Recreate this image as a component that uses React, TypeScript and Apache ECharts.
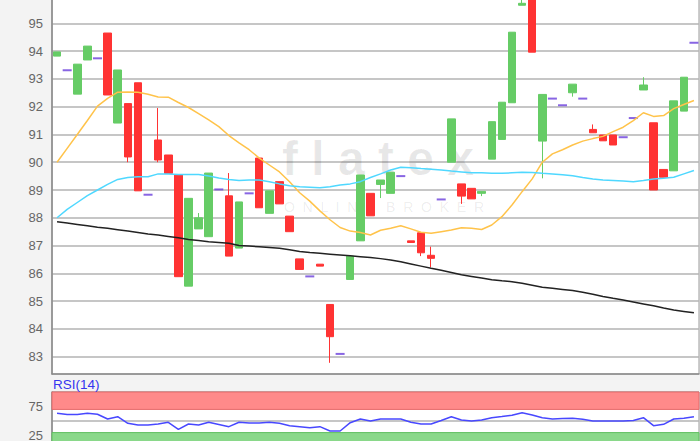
import React, { useEffect, useRef } from 'react';
import * as echarts from 'echarts';

const categories = [
  'T01','T02','T03','T04','T05','T06','T07','T08','T09','T10',
  'T11','T12','T13','T14','T15','T16','T17','T18','T19','T20',
  'T21','T22','T23','T24','T25','T26','T27','T28','T29','T30',
  'T31','T32','T33','T34','T35','T36','T37','T38','T39','T40',
  'T41','T42','T43','T44','T45','T46','T47','T48','T49','T50',
  'T51','T52','T53','T54','T55','T56','T57','T58','T59','T60',
  'T61','T62','T63','T64'
];

// candle bodies (null = doji day, drawn as a dash)
const opens = [
  93.82, null, 92.45, 93.68, null, 94.65, 91.41, 92.11, 92.86, null,
  90.8, 90.26, 89.54, 85.54, 87.6, 87.32, null, 88.79, 86.91, null,
  90.15, 88.16, 89.3, 88.06, 86.52, null, 86.33, 84.88, null, 85.78,
  87.17, 88.88, 89.2, 88.88, null, 87.17, 87.46, 86.65, null, 90.0,
  89.22, 89.06, 88.88, 90.11, 90.82, 92.14, 95.65, 96.3, 90.76, null,
  null, 92.5, null, 91.18, 90.98, 90.98, null, null, 92.6, 91.42,
  89.74, 89.69, 91.84, null
];
const closes = [
  93.97, null, 93.53, 94.18, null, 92.42, 93.32, 90.19, 88.97, null,
  90.08, 89.6, 85.88, 88.7, 88.0, 89.61, null, 86.62, 88.57, null,
  88.36, 88.97, 88.5, 87.5, 86.14, null, 86.26, 83.72, null, 86.62,
  89.54, 88.07, 89.36, 89.64, null, 87.11, 86.74, 86.54, null, 91.56,
  88.78, 88.68, 88.95, 91.46, 92.16, 94.68, 95.72, 93.96, 92.44, null,
  null, 92.81, null, 91.06, 90.77, 90.62, null, null, 92.78, 89.0,
  89.46, 92.21, 93.06, null
];
const lows = [
  93.82, null, 92.45, 93.68, null, 92.42, 91.41, 90.0, 88.97, null,
  90.0, 89.6, 85.88, 85.54, 87.6, 87.32, null, 86.62, 86.91, null,
  88.36, 88.16, 88.5, 87.5, 86.14, null, 86.26, 82.78, null, 85.78,
  87.17, 88.07, 88.71, 88.88, null, 87.11, 86.62, 86.22, null, 90.0,
  88.5, 88.68, 88.78, 90.11, 90.82, 92.14, 95.65, 93.96, 89.42, null,
  null, 92.36, null, 91.06, 90.77, 90.62, null, null, 92.6, 89.0,
  89.46, 89.69, 91.84, null
];
const highs = [
  93.97, null, 93.53, 94.18, null, 94.65, 93.32, 92.11, 92.86, null,
  91.95, 90.26, 89.54, 88.7, 88.17, 89.61, null, 89.61, 88.57, null,
  90.15, 88.97, 89.3, 88.06, 86.52, null, 86.33, 84.88, null, 86.62,
  89.54, 88.88, 89.36, 89.64, null, 87.17, 87.46, 86.96, null, 91.56,
  89.22, 89.06, 88.95, 91.46, 92.16, 94.68, 96.0, 96.3, 92.44, null,
  null, 92.81, null, 91.36, 90.98, 90.98, null, null, 93.06, 91.42,
  89.74, 92.21, 93.06, null
];
const dojis = [
  null, 93.31, null, null, 93.74, null, null, null, null, 88.83,
  null, null, null, null, null, null, 89.02, null, null, 88.88,
  null, null, null, null, null, 85.89, null, null, 83.1, null,
  null, null, null, null, 89.5, null, null, null, 88.66, null,
  null, null, null, null, null, null, null, null, null, 92.29,
  92.05, null, 92.29, null, null, null, 90.9, 91.59, null, null,
  null, null, null, 94.3
];

const maOrange = [
  90.0, 90.5, 91.0, 91.5, 92.02, 92.3, 92.52, 92.53, 92.52, 92.45,
  92.35, 92.34, 92.15, 91.97, 91.75, 91.52, 91.28, 90.96, 90.7, 90.45,
  90.15, 89.9, 89.65, 89.3, 88.9, 88.6, 88.25, 87.93, 87.65, 87.52,
  87.47, 87.38, 87.55, 87.62, 87.71, 87.6, 87.48, 87.44, 87.5, 87.56,
  87.64, 87.62, 87.58, 87.74, 88.04, 88.46, 88.94, 89.4, 90.0, 90.3,
  90.45, 90.62, 90.76, 90.85, 90.93, 91.1, 91.26, 91.5, 91.78, 91.65,
  91.68, 91.93, 92.08, 92.22
];
const maCyan = [
  88.0, 88.3, 88.55, 88.8, 89.0, 89.2, 89.38, 89.45, 89.48, 89.48,
  89.58, 89.58, 89.56, 89.56, 89.56, 89.5, 89.43, 89.38, 89.34, 89.36,
  89.36, 89.3, 89.22, 89.15, 89.12, 89.1, 89.08, 89.12, 89.18, 89.22,
  89.3, 89.45, 89.58, 89.72, 89.82, 89.8, 89.77, 89.75, 89.72, 89.68,
  89.65, 89.62, 89.62, 89.6, 89.6, 89.62, 89.64, 89.63, 89.6, 89.58,
  89.55, 89.51, 89.45, 89.4, 89.36, 89.34, 89.32, 89.3, 89.34, 89.4,
  89.42, 89.46, 89.58, 89.7
];
const maBlack = [
  87.86, 87.81, 87.76, 87.71, 87.66, 87.62, 87.57, 87.52, 87.47, 87.42,
  87.38, 87.33, 87.28, 87.22, 87.18, 87.14, 87.11, 87.08, 87.0, 86.98,
  86.96, 86.93, 86.9, 86.85, 86.79, 86.75, 86.72, 86.69, 86.66, 86.63,
  86.6, 86.57, 86.53, 86.48, 86.42, 86.34, 86.26, 86.18, 86.11, 86.03,
  85.95, 85.89, 85.83, 85.77, 85.73, 85.7, 85.64, 85.57, 85.5, 85.46,
  85.42, 85.38, 85.32, 85.25, 85.17, 85.1, 85.04, 84.97, 84.9, 84.83,
  84.75, 84.68, 84.63, 84.58
];
const rsi = [
  63.3, 61.2, 61.2, 63.3, 61.6, 53.4, 57.4, 46.0, 43.1, 43.1,
  44.8, 47.8, 35.7, 44.8, 43.1, 47.8, 44.0, 40.2, 47.8, 46.6,
  46.6, 47.8, 46.0, 41.9, 40.2, 38.4, 40.2, 32.8, 32.8, 47.1,
  53.4, 50.0, 53.4, 53.4, 53.4, 47.8, 44.8, 44.8, 50.9, 57.4,
  51.7, 50.0, 51.7, 55.7, 57.8, 60.0, 64.3, 60.3, 55.7, 53.4,
  54.1, 54.7, 52.9, 50.0, 50.0, 50.0, 50.0, 50.9, 55.7, 41.9,
  44.3, 53.4, 54.7, 57.4
];
const rsiLabels = [25, 75];
const rsiOverbought = [70, 100];
const rsiOversold = [0, 30];

const FONT = '"Liberation Sans", Arial, sans-serif';

export default function App() {
  const ref = useRef<HTMLDivElement>(null);

  useEffect(() => {
    const chart = echarts.init(ref.current as HTMLDivElement, null, { renderer: 'svg' });

    const candleData = opens.map((o, i) =>
      o == null ? ['-', '-', '-', '-'] : [o, closes[i], lows[i], highs[i]]
    );
    const dojiData = dojis.map((v) => (v == null ? '-' : v));

    const option: any = {
      animation: false,
      backgroundColor: '#f3f3f3',
      grid: [
        {
          left: 52, right: 1, top: -2, height: 376, outerBoundsMode: 'none',
          show: true, backgroundColor: '#ffffff', borderColor: '#9a9a9a', borderWidth: 1,
        },
        {
          left: 52, right: 1, top: 392, height: 58, outerBoundsMode: 'none',
          show: true, backgroundColor: '#ffffff', borderColor: '#9a9a9a', borderWidth: 1,
        },
      ],
      graphic: [
        {
          type: 'text', z: 1, silent: true,
          style: {
            x: 378, y: 158, text: 'f l a t e x', textAlign: 'center', textVerticalAlign: 'middle',
            font: 'bold 48px "Liberation Sans", Arial, sans-serif', fill: 'rgba(0,0,0,0.09)',
          },
        },
        {
          type: 'text', z: 1, silent: true,
          style: {
            x: 384, y: 207, text: 'O  N  L  I  N  E   B  R  O  K  E  R', textAlign: 'center', textVerticalAlign: 'middle',
            font: '14px "Liberation Sans", Arial, sans-serif', fill: 'rgba(0,0,0,0.08)',
          },
        },
        {
          type: 'text', z: 10,
          style: {
            x: 53, y: 377, text: 'RSI(14)', textVerticalAlign: 'top',
            font: '13.5px "Liberation Sans", Arial, sans-serif', fill: '#3535f0',
          },
        },
      ],
      xAxis: [
        {
          type: 'category', gridIndex: 0, data: categories, boundaryGap: true,
          axisLine: { show: true, lineStyle: { color: '#8a8a8a', width: 1.5 } },
          axisTick: { show: false }, axisLabel: { show: false }, splitLine: { show: false },
        },
        {
          type: 'category', gridIndex: 1, data: categories, boundaryGap: true,
          axisLine: { show: false }, axisTick: { show: false }, axisLabel: { show: false },
          splitLine: { show: false },
        },
      ],
      yAxis: [
        {
          type: 'value', gridIndex: 0, min: 82.377, max: 95.911, splitNumber: 13, scale: true,
          axisLine: { show: true, lineStyle: { color: '#8a8a8a', width: 1.5 } },
          axisTick: { show: false },
          axisLabel: {
            color: '#666', fontSize: 13, margin: 9, fontFamily: FONT,
            showMinLabel: false, showMaxLabel: false,
          },
          splitLine: {
            show: true, showMinLine: false, showMaxLine: false,
            lineStyle: { color: '#b3b3b3', width: 1.5 },
          },
        },
        {
          type: 'value', gridIndex: 1, min: 0, max: 100, interval: 25,
          axisLine: { show: true, lineStyle: { color: '#8a8a8a', width: 1.5 } },
          axisTick: { show: false },
          axisLabel: {
            color: '#666', fontSize: 13, margin: 9, fontFamily: FONT,
            formatter: (v: number) => (rsiLabels.indexOf(v) >= 0 ? String(v) : ''),
          },
          splitLine: { show: true, lineStyle: { color: '#b3b3b3', width: 1.5 } },
        },
      ],
      series: [
        {
          type: 'candlestick', xAxisIndex: 0, yAxisIndex: 0, data: candleData,
          barWidth: 8, clip: true,
          itemStyle: {
            color: '#66cc66', color0: '#ff3333',
            borderColor: '#66cc66', borderColor0: '#ff3333', borderWidth: 1,
          },
        },
        {
          type: 'scatter', xAxisIndex: 0, yAxisIndex: 0, data: dojiData,
          symbol: 'rect', symbolSize: [9, 2],
          itemStyle: { color: '#6a3fdc' },
        },
        {
          type: 'line', xAxisIndex: 0, yAxisIndex: 0, data: maOrange, showSymbol: false,
          lineStyle: { color: '#ffc34a', width: 1.5 },
        },
        {
          type: 'line', xAxisIndex: 0, yAxisIndex: 0, data: maCyan, showSymbol: false,
          lineStyle: { color: '#4fd8ff', width: 1.5 },
        },
        {
          type: 'line', xAxisIndex: 0, yAxisIndex: 0, data: maBlack, showSymbol: false,
          lineStyle: { color: '#222222', width: 1.5 },
        },
        {
          type: 'line', xAxisIndex: 1, yAxisIndex: 1, data: rsi, showSymbol: false,
          lineStyle: { color: '#4848ff', width: 1.5 },
          markArea: {
            silent: true,
            data: [
              [
                { yAxis: rsiOverbought[0], itemStyle: { color: '#ff8a8a', borderColor: '#e56a6a', borderWidth: 1 } },
                { yAxis: rsiOverbought[1] },
              ],
              [
                { yAxis: rsiOversold[0], itemStyle: { color: '#8ad88a', borderColor: '#5fbf5f', borderWidth: 1 } },
                { yAxis: rsiOversold[1] },
              ],
            ],
          },
        },
      ],
    };

    chart.setOption(option);
    return () => chart.dispose();
  }, []);

  return (
    <div
      ref={ref}
      style={{ position: 'fixed', left: 0, top: 0, width: 700, height: 441, background: '#f3f3f3' }}
    />
  );
}
